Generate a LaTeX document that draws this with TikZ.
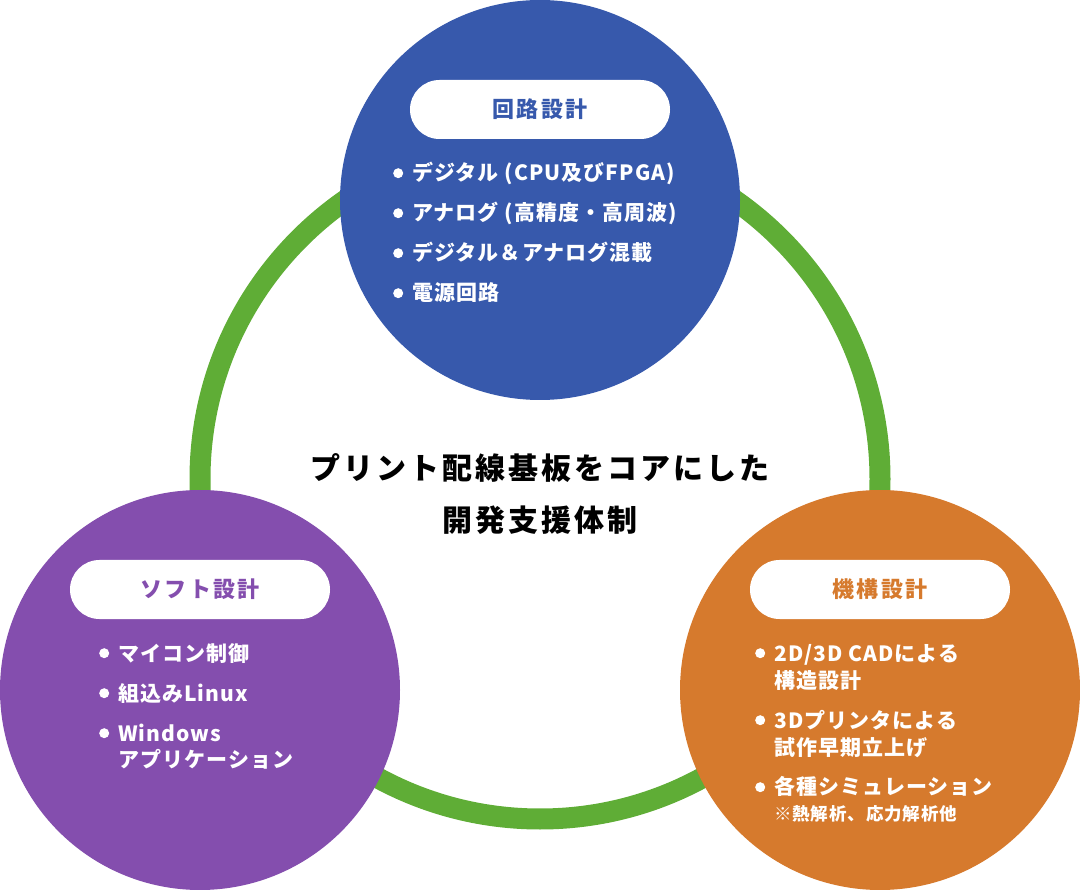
\documentclass[tikz,border=0pt]{standalone}
\usepackage{fontspec}
\setmainfont{Noto Sans CJK JP}[LetterSpace=10]
\newfontfamily\listfont{Noto Sans CJK JP}[LetterSpace=5]
\usetikzlibrary{positioning}
\definecolor{kairo}{HTML}{3759AC}
\definecolor{soft}{HTML}{844EAE}
\definecolor{kikou}{HTML}{D67A2D}
\definecolor{ringgreen}{HTML}{5FAD36}
\newcommand{\itm}{\tikz[baseline=-7.8pt]\fill[white] (0,0) circle (5pt);}
\begin{document}
\begin{tikzpicture}[x=1pt,y=-1pt,
        big/.style={circle,inner sep=0pt,minimum size=400pt},
        pill/.style={rectangle,rounded corners=29.5pt,fill=white,minimum width=260pt,minimum height=59pt,
            inner sep=0pt,font=\fontsize{22}{26}\selectfont\bfseries},
        list/.style={anchor=base west,inner sep=0pt,text=white,font=\listfont\fontsize{21}{27}\selectfont\bfseries}]
        \useasboundingbox (0,0) rectangle (1080,890);
        \node[circle,draw=ringgreen,line width=21pt,minimum size=680pt,inner sep=0pt] (ring) at (540,479) {};
        \node[big,fill=kairo] (1) at (540,200) {};
        \node[big,fill=soft] (2) at (200,690) {};
        \node[big,fill=kikou] (3) at (880,690) {};
        \node[pill,text=kairo,below=80pt of 1.north] (t1) {回路設計};
        \node[pill,text=soft,below=70pt of 2.north] (t2) {ソフト設計};
        \node[pill,text=kikou,below=70pt of 3.north] (t3) {機構設計};
        \node[list] (l1) at (393,181) {\begin{tabular}[t]{@{}l@{\hspace{9pt}}l@{}}
            \itm & デジタル (CPU及びFPGA)\\[13pt]
            \itm & アナログ (高精度・高周波)\\[13pt]
            \itm & デジタル＆アナログ混載\\[13pt]
            \itm & 電源回路
        \end{tabular}};
        \node[list] (l2) at (99,661) {\begin{tabular}[t]{@{}l@{\hspace{9pt}}l@{}}
            \itm & マイコン制御\\[13pt]
            \itm & 組込みLinux\\[13pt]
            \itm & Windows\\
                 & アプリケーション
        \end{tabular}};
        \node[list] (l3) at (755,661) {\begin{tabular}[t]{@{}l@{\hspace{9pt}}l@{}}
            \itm & 2D/3D CADによる\\
                 & 構造設計\\[13pt]
            \itm & 3Dプリンタによる\\
                 & 試作早期立上げ\\[13pt]
            \itm & 各種シミュレーション\\[-1pt]
                 & {\fontsize{17.5}{20}\selectfont ※熱解析、応力解析他}
        \end{tabular}};
        \node[align=center,inner sep=0pt,font=\fontsize{30}{52}\selectfont\bfseries] (core) at (540,494)
            {プリント配線基板をコアにした\\開発支援体制};
\end{tikzpicture}
\end{document}
